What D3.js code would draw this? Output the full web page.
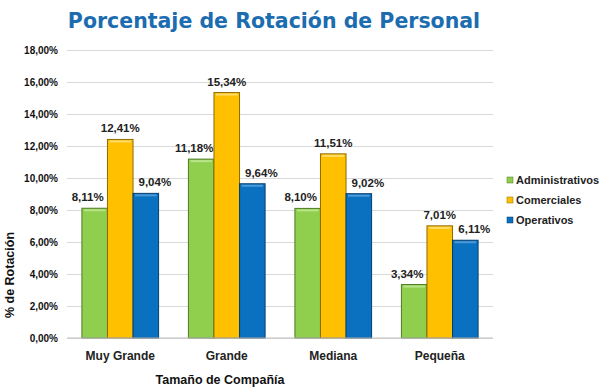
<!DOCTYPE html>
<html>
<head>
<meta charset="utf-8">
<script src="https://cdn.jsdelivr.net/npm/d3@7"></script>
<style>
  body { margin: 0; background: #fff; }
  text { font-family: "Liberation Sans", Arial, sans-serif; }
</style>
</head>
<body>
<svg id="chart" width="599" height="389"></svg>
<script>
// chart data
var categories = ["Muy Grande", "Grande", "Mediana", "Pequeña"];
var seriesNames = ["Administrativos", "Comerciales", "Operativos"];
var administrativos = [8.11, 11.18, 8.10, 3.34];
var comerciales = [12.41, 15.34, 11.51, 7.01];
var operativos = [9.04, 9.64, 9.02, 6.11];
var yTicks = [0, 2, 4, 6, 8, 10, 12, 14, 16, 18];

var seriesValues = [administrativos, comerciales, operativos];
var colours = ["#8fcf4d", "#ffc000", "#0a70c0"];
var strokes = ["#4f7a24", "#8f6a00", "#053f6e"];
var tops = ["#b8e48a", "#ffdc6a", "#4d9ad8"];
var labelShift = [-7, 0, 9];

var fmt = function(v) { return v.toFixed(2).replace(".", ",") + "%"; };

var svg = d3.select("#chart"),
    margin = {top: 50, right: 106, bottom: 51, left: 67},
    width = +svg.attr("width") - margin.left - margin.right,
    height = +svg.attr("height") - margin.top - margin.bottom;

// title
svg.append("text")
  .attr("x", 274)
  .attr("y", 28)
  .attr("text-anchor", "middle")
  .style("font-family", "'DejaVu Sans', Verdana, sans-serif")
  .style("font-weight", "bold")
  .style("font-size", "20.5px")
  .attr("fill", "#1c6cb0")
  .text("Porcentaje de Rotación de Personal");

var x0 = d3.scaleBand().domain(categories).range([0, width]).paddingInner(0.28).paddingOuter(0.14);
var x1 = d3.scaleBand().domain(seriesNames).range([0, x0.bandwidth()]);
var y = d3.scaleLinear().domain([0, 18]).range([height, 0]);

var g = svg.append("g")
  .attr("transform", "translate(" + margin.left + "," + margin.top + ")");

// gridlines and y labels
g.append("g")
  .attr("class", "axis axis--y")
  .call(d3.axisLeft(y).tickValues(yTicks).tickFormat(function(d) { return d.toFixed(2).replace(".", ",") + "%"; })
    .tickSizeInner(-width).tickSizeOuter(0).tickPadding(9))
  .call(function(a) {
    a.select(".domain").remove();
    a.selectAll(".tick line").attr("stroke", "#d9d9d9");
    a.selectAll(".tick text").attr("fill", "#111").style("font-size", "10px").style("font-weight", "bold")
      .style("font-family", "'Liberation Sans', Arial, sans-serif");
  });

// bars
var rows = [];
categories.forEach(function(c, i) {
  seriesNames.forEach(function(s, j) {
    rows.push({cat: c, series: s, idx: j, value: seriesValues[j][i]});
  });
});

var bars = g.selectAll(".bar").data(rows).enter().append("g").attr("class", "bar");

bars.append("rect")
  .attr("x", function(d) { return x0(d.cat) + x1(d.series); })
  .attr("y", function(d) { return y(d.value); })
  .attr("width", x1.bandwidth())
  .attr("height", function(d) { return height - y(d.value); })
  .attr("fill", function(d) { return colours[d.idx]; })
  .attr("stroke", function(d) { return strokes[d.idx]; })
  .attr("stroke-width", 1);

bars.append("rect")
  .attr("x", function(d) { return x0(d.cat) + x1(d.series) + 2; })
  .attr("y", function(d) { return y(d.value) + 1; })
  .attr("width", x1.bandwidth() - 4)
  .attr("height", 2)
  .attr("fill", function(d) { return tops[d.idx]; });

bars.append("text")
  .attr("x", function(d) { return x0(d.cat) + x1(d.series) + x1.bandwidth() / 2 + labelShift[d.idx]; })
  .attr("y", function(d) { return y(d.value) - 7; })
  .attr("text-anchor", "middle")
  .style("font-size", "11.5px")
  .style("font-weight", "bold")
  .attr("fill", "#222")
  .text(function(d) { return fmt(d.value); });

// baseline
g.append("line")
  .attr("x1", 0).attr("x2", width)
  .attr("y1", height).attr("y2", height)
  .attr("stroke", "#bfbfbf");

// category labels
g.selectAll(".cat").data(categories).enter().append("text")
  .attr("class", "cat")
  .attr("x", function(d) { return x0(d) + x0.bandwidth() / 2; })
  .attr("y", height + 22)
  .attr("text-anchor", "middle")
  .style("font-size", "12px")
  .style("font-weight", "bold")
  .attr("fill", "#222")
  .text(function(d) { return d; });

// axis titles
svg.append("text")
  .attr("x", 220)
  .attr("y", 384)
  .attr("text-anchor", "middle")
  .style("font-size", "12.5px")
  .style("font-weight", "bold")
  .attr("fill", "#111")
  .text("Tamaño de Compañía");

svg.append("text")
  .attr("transform", "translate(14,275) rotate(-90)")
  .attr("text-anchor", "middle")
  .style("font-size", "12.5px")
  .style("font-weight", "bold")
  .attr("fill", "#111")
  .text("% de Rotación");

// legend
var legend = svg.selectAll(".legend").data(seriesNames).enter().append("g")
  .attr("class", "legend")
  .attr("transform", function(d, i) { return "translate(507," + (182 + i * 20) + ")"; });

legend.append("rect")
  .attr("x", 0).attr("y", -5)
  .attr("width", 6).attr("height", 6)
  .attr("fill", function(d, i) { return colours[i]; })
  .attr("stroke", function(d, i) { return strokes[i]; })
  .attr("stroke-width", 0.5);

legend.append("text")
  .attr("x", 9)
  .attr("y", 2)
  .style("font-size", "11px")
  .style("font-weight", "bold")
  .attr("fill", "#222")
  .text(function(d) { return d; });
</script>
</body>
</html>
